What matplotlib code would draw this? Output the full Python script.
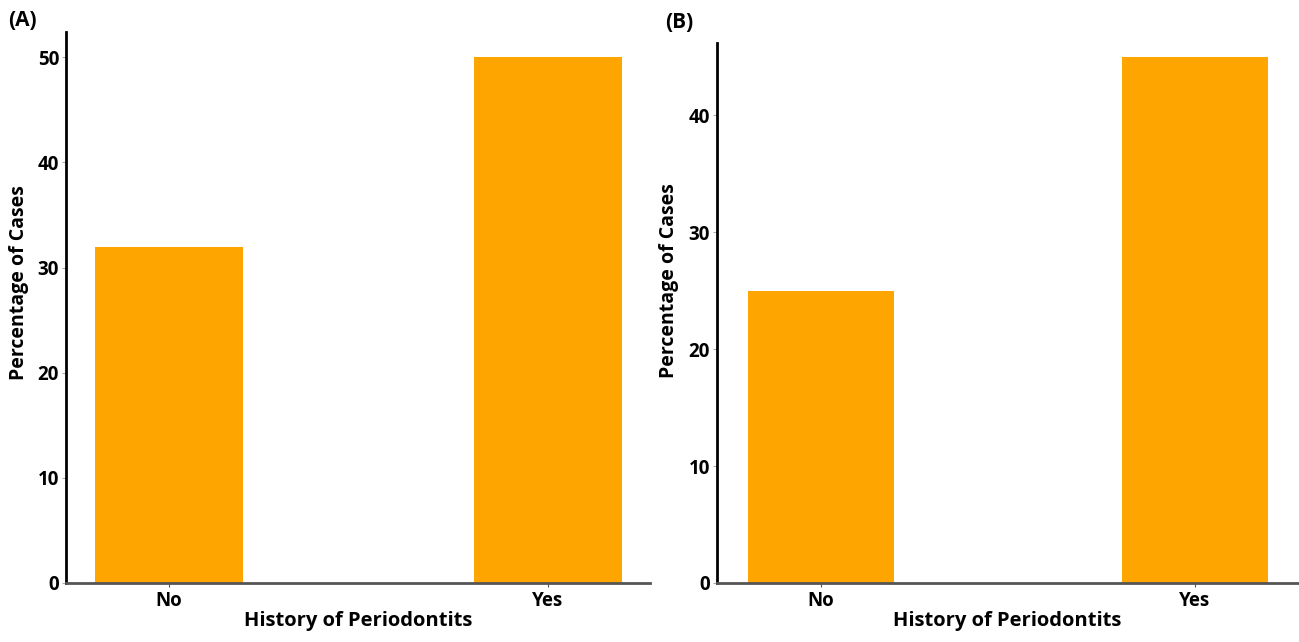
import matplotlib
matplotlib.use("Agg")
import matplotlib.pyplot as plt

categories = ["No", "Yes"]
values_a = [32, 50]
values_b = [25, 45]
yticks_a = [0, 10, 20, 30, 40, 50]
yticks_b = [0, 10, 20, 30, 40]

plt.rcParams['font.family'] = ['Open Sans', 'DejaVu Sans']

fig = plt.figure(figsize=(12.99, 6.42), dpi=100)
W, H = 1299, 642

def make_ax(l, r, t, b):
    return fig.add_axes([l / W, 1 - b / H, (r - l) / W, (b - t) / H])

axA = make_ax(66, 650, 32, 583)
axB = make_ax(717, 1298, 43, 583)

color = "#FFA500"
panels = [
    (axA, values_a, yticks_a, 52.4, (-0.272, 1.27), (-0.064, 0.545)),
    (axB, values_b, yticks_b, 46.2, (-0.277, 1.275), (-0.066, 0.56)),
]
for ax, vals, ticks, ylim, xlim, lc in panels:
    x = list(range(len(categories)))
    ax.bar(x, vals, width=0.39, color=color, edgecolor="none")
    ax.set_xlim(*xlim)
    ax.set_ylim(0, ylim)
    ax.set_xticks(x)
    ax.set_xticklabels(categories, fontsize=13.5, fontweight="bold")
    ax.set_yticks(ticks)
    ax.set_yticklabels([str(t) for t in ticks], fontsize=13.5, fontweight="bold")
    for s in ["top", "right"]:
        ax.spines[s].set_visible(False)
    ax.spines["left"].set_color("black")
    ax.spines["left"].set_linewidth(2)
    ax.spines["bottom"].set_color("#555555")
    ax.spines["bottom"].set_linewidth(2)
    ax.tick_params(axis="y", length=3, color="#aaaaaa", pad=2)
    ax.tick_params(axis="x", length=3, color="#555555", pad=3)
    ax.set_xlabel("History of Periodontits", fontsize=14.5, fontweight="bold", labelpad=0)
    ax.set_ylabel("Percentage of Cases", fontsize=14, fontweight="bold")
    ax.yaxis.set_label_coords(*lc)

fig.text(8 / W, 1 - 20 / H, "(A)", fontsize=15, fontweight="bold", va="center", ha="left")
fig.text(665 / W, 1 - 22 / H, "(B)", fontsize=15, fontweight="bold", va="center", ha="left")

fig.savefig("out.png", dpi=100)
